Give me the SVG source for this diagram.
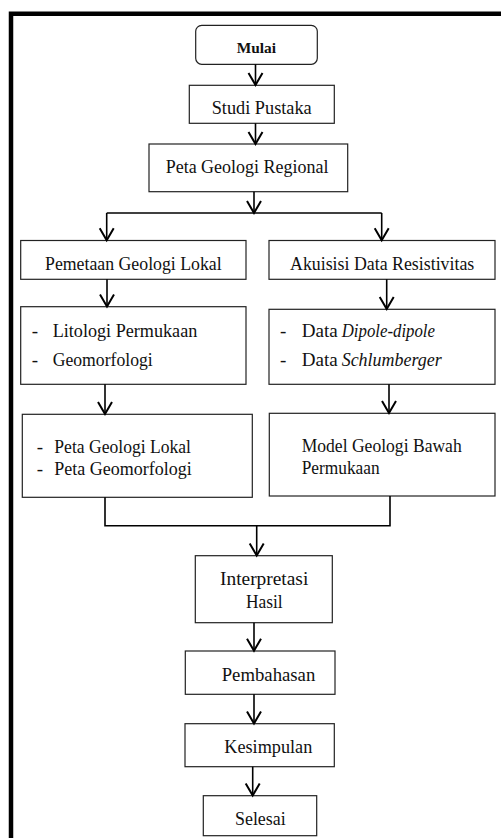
<svg xmlns="http://www.w3.org/2000/svg" width="501" height="838" viewBox="0 0 501 838">
<style>
.box{fill:#fff;stroke:#222;stroke-width:1.2}
.t{font-family:"Liberation Serif","Times New Roman",serif;font-size:19px;fill:#111}
.i{font-style:italic}
.b{font-weight:bold;font-size:15.5px}
.c{fill:none;stroke:#000;stroke-width:1.6}
</style>
<defs>
<marker id="ah" markerUnits="userSpaceOnUse" markerWidth="16" markerHeight="18" viewBox="-1 -9 16 18" refX="13" refY="0" orient="auto" overflow="visible">
<path d="M1,-7 L13,0 L1,7" fill="none" stroke="#000" stroke-width="2"/>
</marker>
</defs>
<rect width="501" height="838" fill="#fff"/>
<path d="M11,838 V13.8 H501" fill="none" stroke="#000" stroke-width="4.5"/>

<g id="mulai"><rect class="box" x="195.7" y="25.3" width="121.6" height="39" rx="6"/><text class="t b" x="236.7" y="53" textLength="39.3" lengthAdjust="spacingAndGlyphs">Mulai</text></g>
<g id="studi"><rect class="box" x="189.3" y="85.3" width="145" height="38"/><text class="t" x="211.7" y="114.3" textLength="100" lengthAdjust="spacingAndGlyphs">Studi Pustaka</text></g>
<g id="regional"><rect class="box" x="149" y="144" width="198.7" height="47.7"/><text class="t" x="165.7" y="173" textLength="162.7" lengthAdjust="spacingAndGlyphs">Peta Geologi Regional</text></g>
<g id="pemetaan"><rect class="box" x="20.7" y="240.5" width="225.3" height="38.8"/><text class="t" x="45" y="270" textLength="176.7" lengthAdjust="spacingAndGlyphs">Pemetaan Geologi Lokal</text></g>
<g id="akuisisi"><rect class="box" x="269" y="240.5" width="226" height="38.8"/><text class="t" x="290" y="270" textLength="184.3" lengthAdjust="spacingAndGlyphs">Akuisisi Data Resistivitas</text></g>
<g id="litologi"><rect class="box" x="20.7" y="306.7" width="225.3" height="77.6"/>
<text class="t" x="31.7" y="336.7">-</text><text class="t" x="52.7" y="336.7" textLength="144.6" lengthAdjust="spacingAndGlyphs">Litologi Permukaan</text>
<text class="t" x="31.7" y="366">-</text><text class="t" x="52.7" y="366" textLength="100" lengthAdjust="spacingAndGlyphs">Geomorfologi</text></g>
<g id="data"><rect class="box" x="269" y="309.3" width="226" height="75"/>
<text class="t" x="280" y="336.7">-</text><text class="t" x="301.7" y="336.7" textLength="36" lengthAdjust="spacingAndGlyphs">Data</text><text class="t i" x="341.7" y="336.7" textLength="93.3" lengthAdjust="spacingAndGlyphs">Dipole-dipole</text>
<text class="t" x="280" y="366">-</text><text class="t" x="301.7" y="366" textLength="36" lengthAdjust="spacingAndGlyphs">Data</text><text class="t i" x="341.7" y="366" textLength="100" lengthAdjust="spacingAndGlyphs">Schlumberger</text></g>
<g id="petalokal"><rect class="box" x="22.3" y="414.3" width="230" height="83"/>
<text class="t" x="36.7" y="452.7">-</text><text class="t" x="54.3" y="452.7" textLength="136.7" lengthAdjust="spacingAndGlyphs">Peta Geologi Lokal</text>
<text class="t" x="36.7" y="475">-</text><text class="t" x="54.3" y="475" textLength="137.4" lengthAdjust="spacingAndGlyphs">Peta Geomorfologi</text></g>
<g id="model"><rect class="box" x="269.3" y="413.3" width="225.7" height="82.7"/>
<text class="t" x="301.7" y="451.7" textLength="160" lengthAdjust="spacingAndGlyphs">Model Geologi Bawah</text>
<text class="t" x="301.7" y="474.3" textLength="78" lengthAdjust="spacingAndGlyphs">Permukaan</text></g>
<g id="interpretasi"><rect class="box" x="195.3" y="555.7" width="137" height="67"/>
<text class="t" x="220" y="585" textLength="88.3" lengthAdjust="spacingAndGlyphs">Interpretasi</text>
<text class="t" x="246" y="608.3" textLength="36.7" lengthAdjust="spacingAndGlyphs">Hasil</text></g>
<g id="pembahasan"><rect class="box" x="185.3" y="651" width="149.7" height="43.3"/><text class="t" x="221.7" y="680.7" textLength="93.6" lengthAdjust="spacingAndGlyphs">Pembahasan</text></g>
<g id="kesimpulan"><rect class="box" x="185" y="723.7" width="149.3" height="43"/><text class="t" x="224.3" y="753.3" textLength="88" lengthAdjust="spacingAndGlyphs">Kesimpulan</text></g>
<g id="selesai"><rect class="box" x="203.3" y="795.7" width="113.4" height="40"/><text class="t" x="235" y="825" textLength="50.7" lengthAdjust="spacingAndGlyphs">Selesai</text></g>

<g id="connectors">
<path class="c" d="M255.5,64.3 V85" marker-end="url(#ah)"/>
<path class="c" d="M255.5,123.3 V144" marker-end="url(#ah)"/>
<path class="c" d="M254,191.7 V213" marker-end="url(#ah)"/>
<path class="c" d="M106.7,213 H381.7"/>
<path class="c" d="M106.7,213 V240.3" marker-end="url(#ah)"/>
<path class="c" d="M381.7,213 V240.3" marker-end="url(#ah)"/>
<path class="c" d="M107,279.3 V306.5" marker-end="url(#ah)"/>
<path class="c" d="M386.7,279.3 V309" marker-end="url(#ah)"/>
<path class="c" d="M105,384.3 V414" marker-end="url(#ah)"/>
<path class="c" d="M389,384.3 V413" marker-end="url(#ah)"/>
<path class="c" d="M105,497.3 V525.7 H390 V496"/>
<path class="c" d="M256.7,525.7 V555.5" marker-end="url(#ah)"/>
<path class="c" d="M254,622.7 V650.8" marker-end="url(#ah)"/>
<path class="c" d="M254,694.3 V723.5" marker-end="url(#ah)"/>
<path class="c" d="M252.7,766.7 V795.5" marker-end="url(#ah)"/>
</g>
</svg>
